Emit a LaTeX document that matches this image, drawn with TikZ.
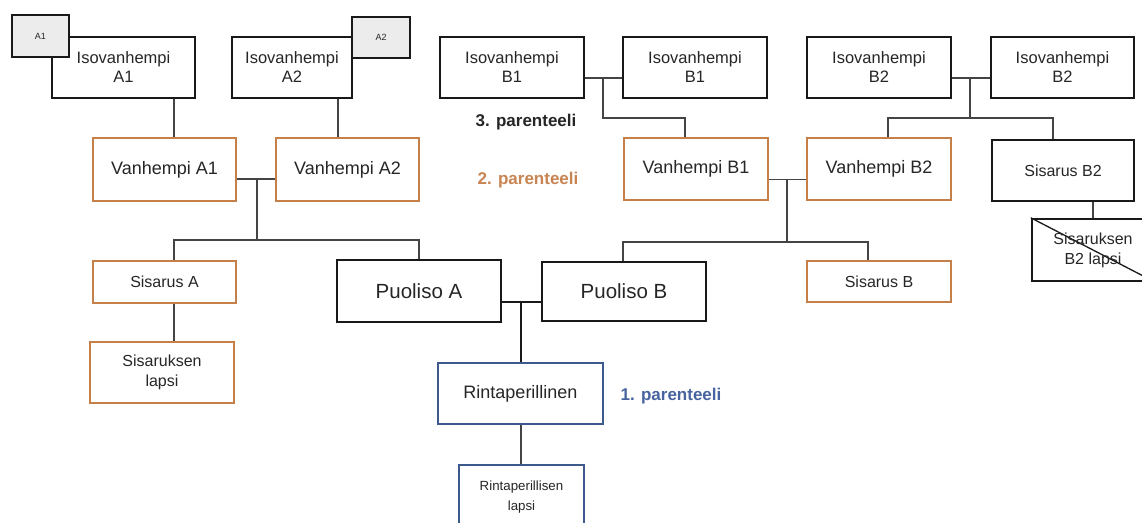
\documentclass[tikz,border=0pt]{standalone}
\usepackage{fontspec}
\setmainfont{Liberation Sans}
\usetikzlibrary{calc}
\definecolor{ora}{RGB}{196,128,72}
\definecolor{oratxt}{RGB}{200,132,82}
\definecolor{blu}{RGB}{62,90,140}
\definecolor{blutxt}{RGB}{72,100,160}
\definecolor{txt}{RGB}{38,38,38}
\definecolor{lin}{RGB}{68,68,68}
\definecolor{smallfill}{RGB}{236,236,236}
\begin{document}
\begin{tikzpicture}[x=1pt,y=-1pt,
  box/.style={draw, rectangle, inner sep=0pt, align=center, text=txt},
  blk/.style={box, line width=2.4pt, draw=black!90},
  orb/.style={box, line width=2pt, draw=ora},
  blb/.style={box, line width=2pt, draw=blu},
  smallbox/.style={box, line width=2.2pt, draw=black!90, fill=smallfill, font=\fontsize{9}{10}\selectfont},
  fiso/.style={font=\fontsize{16.5}{19}\selectfont},
  fvan/.style={font=\fontsize{18}{21}\selectfont},
  fsis/.style={font=\fontsize{16}{20}\selectfont},
  fpuo/.style={font=\fontsize{20.5}{24}\selectfont},
  fsmall/.style={font=\fontsize{13.3}{20}\selectfont},
  plabel/.style={font=\bfseries\fontsize{17}{20}\selectfont},
  conn/.style={line width=1.3pt, draw=lin},
  thickconn/.style={line width=2.6pt, draw=black!90},
]
\fill[white] (0,0) rectangle (1142,522);
\useasboundingbox (0,0) rectangle (1142,522);
\begin{scope}
\clip (0,0) rectangle (1142,522);

% grandparents
\node[blk, fiso, minimum width=143pt, minimum height=61pt] (isoA1) at (123.5,67.5) {Isovanhempi\\A1};
\node[smallbox, minimum width=57pt, minimum height=42pt] (smA1) at (40.5,36) {A1};
\node[blk, fiso, minimum width=120pt, minimum height=61pt] (isoA2) at (292,67.5) {Isovanhempi\\A2};
\node[smallbox, minimum width=58pt, minimum height=41pt] (smA2) at (381,37.5) {A2};
\node[blk, fiso, minimum width=144pt, minimum height=61pt] (isoB1L) at (512,67.5) {Isovanhempi\\B1};
\node[blk, fiso, minimum width=144pt, minimum height=61pt] (isoB1R) at (695,67.5) {Isovanhempi\\B1};
\node[blk, fiso, minimum width=144pt, minimum height=61pt] (isoB2L) at (879,67.5) {Isovanhempi\\B2};
\node[blk, fiso, minimum width=143pt, minimum height=61pt] (isoB2R) at (1062.5,67.5) {Isovanhempi\\B2};

% parents
\node[orb, fvan, minimum width=143pt, minimum height=63pt] (vanA1) at (164.5,169.5) {Vanhempi A1};
\node[orb, fvan, minimum width=143pt, minimum height=63pt] (vanA2) at (347.5,169.5) {Vanhempi A2};
\node[orb, fvan, minimum width=144pt, minimum height=62pt] (vanB1) at (696,169) {Vanhempi B1};
\node[orb, fvan, minimum width=144pt, minimum height=62pt] (vanB2) at (879,169) {Vanhempi B2};
\node[blk, fsis, minimum width=142pt, minimum height=61pt] (sisB2) at (1063,170.5) {Sisarus B2};

% siblings and spouses
\node[orb, fsis, minimum width=143pt, minimum height=42pt] (sisA) at (164.5,282) {Sisarus A};
\node[orb, fsis, minimum width=144pt, minimum height=41pt] (sisB) at (879,281.5) {Sisarus B};
\node[blk, fpuo, minimum width=164pt, minimum height=62pt] (puoA) at (419,291) {Puoliso A};
\node[blk, fpuo, minimum width=164pt, minimum height=59pt] (puoB) at (624,291.5) {Puoliso B};
\node[orb, fsis, minimum width=144pt, minimum height=61pt] (sisL) at (162,372.5) {Sisaruksen\\lapsi};
\node[blk, fsis, minimum width=122pt, minimum height=62pt] (sB2L) at (1093,250) {};
\draw[line width=1.3pt, black!90] (sB2L.north west) -- (sB2L.south east);
\node[fsis, text=txt, align=center] (sB2Ltext) at (sB2L.center) {Sisaruksen\\B2 lapsi};

% descendants
\node[blb, fvan, minimum width=165pt, minimum height=61pt] (rinta) at (520.5,393.5) {Rintaperillinen};
\node[blb, fsmall, minimum width=125pt, minimum height=64pt] (rintaL) at (521.5,497) {Rintaperillisen\\lapsi};

% labels
\node[plabel, text=txt] (p3) at (526,122) {3. parenteeli};
\node[plabel, text=oratxt] (p2) at (528,180) {2. parenteeli};
\node[plabel, text=blutxt] (p1) at (671,396) {1. parenteeli};

% connector coordinates
\coordinate (cA) at (174,240);
\coordinate (xA2) at (338,118);
\coordinate (jA) at (257,179);
\coordinate (bA) at (257,240);
\coordinate (jB1) at (603,78);
\coordinate (bB1) at (603,118);
\coordinate (cB1) at (685,118);
\coordinate (jB2) at (970,78);
\coordinate (bB2) at (970,118);
\coordinate (lB2) at (888,118);
\coordinate (rB2) at (1053,118);
\coordinate (jV) at (787,179.5);
\coordinate (bV) at (787,242);
\coordinate (lV) at (623,242);
\coordinate (rV) at (868,242);
\coordinate (jP) at (521,302);
\coordinate (xS) at (1093,210);

% A side
\draw[conn] (cA |- isoA1.south) -- (cA |- vanA1.north);
\draw[conn] (xA2 |- isoA2.south) -- (xA2 |- vanA2.north);
\draw[conn] (vanA1.east |- jA) -- (vanA2.west |- jA);
\draw[conn] (jA) -- (bA);
\draw[conn] (cA |- sisA.north) -- (cA) -- (puoA.north |- cA) -- (puoA.north);
\draw[conn] (cA |- sisA.south) -- (cA |- sisL.north);

% B1 side
\draw[conn] (isoB1L.east |- jB1) -- (isoB1R.west |- jB1);
\draw[conn] (jB1) -- (bB1) -- (cB1) -- (cB1 |- vanB1.north);

% B2 side
\draw[conn] (isoB2L.east |- jB2) -- (isoB2R.west |- jB2);
\draw[conn] (jB2) -- (bB2);
\draw[conn] (lB2 |- vanB2.north) -- (lB2) -- (rB2) -- (rB2 |- sisB2.north);
\draw[conn] (xS |- sisB2.south) -- (xS |- sB2L.north);

% parents B
\draw[conn] (vanB1.east |- jV) -- (vanB2.west |- jV);
\draw[conn] (jV) -- (bV);
\draw[conn] (lV |- puoB.north) -- (lV) -- (rV) -- (rV |- sisB.north);

% spouses and descendants
\draw[thickconn] (puoA.east |- jP) -- (puoB.west |- jP);
\draw[thickconn] (jP) -- (jP |- rinta.north);
\draw[conn] (jP |- rinta.south) -- (jP |- rintaL.north);
\end{scope}
\end{tikzpicture}
\end{document}
